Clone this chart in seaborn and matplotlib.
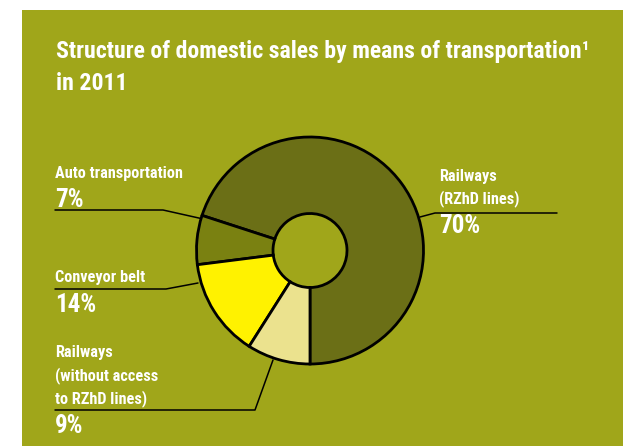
import matplotlib
matplotlib.use("Agg")
import matplotlib.pyplot as plt
from matplotlib import font_manager
from matplotlib.patches import Rectangle
import seaborn as sns

# Shares of domestic sales by means of transportation, 2011 (%)
categories = ["Railways (RZhD lines)", "Auto transportation", "Conveyor belt",
              "Railways (without access to RZhD lines)"]
shares = [70, 7, 14, 9]
share_labels = [f"{v}%" for v in shares]
slice_colors = ["#6b6f16", "#7a8111", "#fff200", "#ebe28e"]
background = "#a0a61a"

title_lines = ["Structure of domestic sales by means of transportation\u00b9", "in 2011"]

sns.set_theme(style="white")
names = {f.name for f in font_manager.fontManager.ttflist}
preferred = ["Roboto Condensed", "Archivo Narrow", "Barlow Condensed",
             "Asap Condensed", "DejaVu Sans"]
family = next(n for n in preferred if n in names or n == "DejaVu Sans")
plt.rcParams["font.family"] = [family, "DejaVu Sans"]

W, H = 623, 446
fig = plt.figure(figsize=(W / 100, H / 100), dpi=100)
fig.patch.set_facecolor("white")

ax = fig.add_axes([0, 0, 1, 1])
ax.patch.set_alpha(0)


def Y(py):
    return H - py


# Coloured panel behind the chart
ax.add_patch(Rectangle((22, 0), W - 22, H - 10, facecolor=background,
                       edgecolor="none", zorder=0))

cx, cy, r_out, r_in = 310, 250.5, 113.5, 37
wedges, _ = ax.pie(shares, colors=slice_colors, startangle=-90, counterclock=True,
                   radius=r_out, center=(cx, Y(cy)), frame=True,
                   wedgeprops=dict(width=r_out - r_in, edgecolor="black",
                                   linewidth=2, zorder=2))
ax.set_xlim(0, W)
ax.set_ylim(0, H)
ax.set_aspect("equal")
ax.axis("off")

renderer = fig.canvas.get_renderer()


def fit_size(sample, width_px, base=12.0):
    """Font size at which `sample` spans about width_px pixels."""
    t = fig.text(0, 0, sample, fontsize=base, fontweight="bold")
    w = t.get_window_extent(renderer).width
    t.remove()
    return base * width_px / w


title_fs = fit_size(title_lines[0], 533)
lab_fs = fit_size("Auto transportation", 128)
pct_fs = fit_size("70%", 41)
lw = 1.1
white = "white"


def label(x, base, txt, fs):
    ax.text(x, Y(base), txt, color=white, fontsize=fs, fontweight="bold",
            va="baseline", ha="left", zorder=3)


def leader(xs, ys):
    ax.plot(xs, [Y(v) for v in ys], color="black", lw=lw, zorder=1.5)


# Title
label(56, 58, title_lines[0], title_fs)
label(56, 90, title_lines[1], title_fs)

# Auto transportation
label(55, 178, "Auto transportation", lab_fs)
label(55, 207, share_labels[1], pct_fs)
leader([55, 163, 201], [210, 210, 218.5])

# Conveyor belt
label(55, 282, "Conveyor belt", lab_fs)
label(55, 312, share_labels[2], pct_fs)
leader([55, 166, 198], [289, 289, 283])

# Railways without access to RZhD lines
for txt, base in [("Railways", 357), ("(without access", 380), ("to RZhD lines)", 403)]:
    label(55, base, txt, lab_fs)
label(55, 433, share_labels[3], pct_fs)
leader([55, 255, 273], [410, 410, 360])

# Railways (RZhD lines)
for txt, base in [("Railways", 181), ("(RZhD lines)", 203)]:
    label(439, base, txt, lab_fs)
label(439, 233, share_labels[0], pct_fs)
leader([420, 435, 557], [217, 213, 213])

fig.savefig("out.png", dpi=100, facecolor=fig.get_facecolor())
